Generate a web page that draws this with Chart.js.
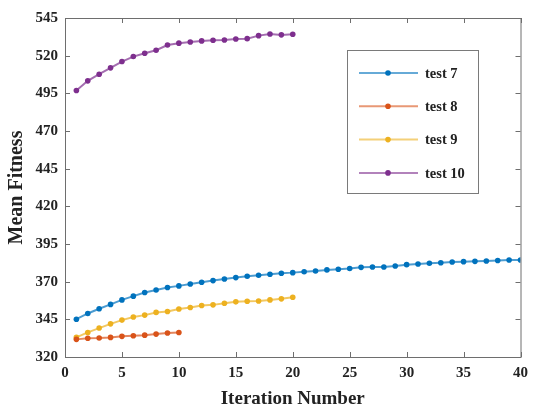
<!DOCTYPE html>
<html>
<head>
<meta charset="utf-8">
<script src="https://cdn.jsdelivr.net/npm/chart.js@4"></script>
<style>
  html, body { margin: 0; padding: 0; background: #fff; }
  #wrap { width: 535px; height: 408px; }
</style>
</head>
<body>
<div id="wrap"><canvas id="myChart" width="535" height="408"></canvas></div>
<script>
// data
var seriesNames = ["test 7", "test 8", "test 9", "test 10"];
var seriesColors = ["#0072BD", "#D95319", "#EDB120", "#7E2F8E"];

var test7 = [345.1, 348.9, 352.0, 354.9, 357.9, 360.4, 362.8, 364.5, 366.1, 367.2,
  368.5, 369.6, 370.7, 371.8, 372.7, 373.6, 374.3, 374.9, 375.6, 376.0,
  376.6, 377.1, 377.8, 378.2, 378.7, 379.5, 379.7, 379.7, 380.4, 381.3,
  381.7, 382.2, 382.6, 383.1, 383.3, 383.5, 383.7, 384.0, 384.4, 384.4];
var test8 = [331.7, 332.4, 332.6, 333.0, 333.7, 334.1, 334.5, 335.2, 335.9, 336.3];
var test9 = [333.0, 336.3, 339.2, 342.0, 344.5, 346.5, 347.8, 349.6, 350.2, 351.9,
  352.9, 354.2, 354.6, 355.7, 356.6, 357.0, 357.2, 357.9, 358.6, 359.7];
var test10 = [496.9, 503.3, 507.7, 511.9, 516.1, 519.4, 521.6, 523.6, 527.1, 528.3,
  529.1, 529.8, 530.2, 530.4, 531.1, 531.3, 533.3, 534.4, 533.8, 534.2];

var xTicks = [0, 5, 10, 15, 20, 25, 30, 35, 40];
var yTicks = [320, 345, 370, 395, 420, 445, 470, 495, 520, 545];

var allSeries = [test7, test8, test9, test10];

function toPoints(values) {
  return values.map(function (v, i) {
    return { x: i + 1, y: v };
  });
}

function fade(hex, a) {
  var r = parseInt(hex.substr(1, 2), 16);
  var g = parseInt(hex.substr(3, 2), 16);
  var b = parseInt(hex.substr(5, 2), 16);
  return "rgba(" + r + "," + g + "," + b + "," + a + ")";
}

var datasets = allSeries.map(function (values, k) {
  return {
    label: seriesNames[k],
    data: toPoints(values),
    borderColor: fade(seriesColors[k], 0.7),
    backgroundColor: seriesColors[k],
    pointBackgroundColor: seriesColors[k],
    pointBorderColor: seriesColors[k],
    borderWidth: 2,
    pointRadius: 2.8,
    pointBorderWidth: 0,
    tension: 0,
  };
});

var serif = "'Liberation Serif', 'Times New Roman', serif";
var axisColor = "#6e6e6e";

// box round the plot, inward tick marks, legend inside the axes
var matlabLook = {
  id: "matlabLook",
  afterDraw: function (chart) {
    var ctx = chart.ctx;
    var a = chart.chartArea;
    var xs = chart.scales.x;
    var ys = chart.scales.y;
    ctx.save();
    ctx.strokeStyle = axisColor;
    ctx.lineWidth = 1;
    ctx.strokeRect(a.left + 0.5, a.top + 0.5, a.right - a.left, a.bottom - a.top);
    ctx.beginPath();
    xTicks.forEach(function (t) {
      var px = Math.round(xs.getPixelForValue(t)) + 0.5;
      ctx.moveTo(px, a.bottom);
      ctx.lineTo(px, a.bottom - 5);
      ctx.moveTo(px, a.top);
      ctx.lineTo(px, a.top + 5);
    });
    yTicks.forEach(function (t) {
      var py = Math.round(ys.getPixelForValue(t)) + 0.5;
      ctx.moveTo(a.left, py);
      ctx.lineTo(a.left + 5, py);
      ctx.moveTo(a.right, py);
      ctx.lineTo(a.right - 5, py);
    });
    ctx.stroke();

    // legend
    var bx = 347, by = 50, bw = 131, bh = 143;
    ctx.fillStyle = "#fff";
    ctx.fillRect(bx, by, bw, bh);
    ctx.strokeStyle = "#7a7a7a";
    ctx.strokeRect(bx + 0.5, by + 0.5, bw, bh);
    ctx.font = "bold 14.5px " + serif;
    ctx.textBaseline = "middle";
    ctx.textAlign = "left";
    chart.data.datasets.forEach(function (ds, k) {
      var y = 73 + k * 33.3;
      ctx.strokeStyle = fade(seriesColors[k], 0.6);
      ctx.lineWidth = 2;
      ctx.beginPath();
      ctx.moveTo(359, y);
      ctx.lineTo(418, y);
      ctx.stroke();
      ctx.fillStyle = seriesColors[k];
      ctx.beginPath();
      ctx.arc(388, y, 2.8, 0, Math.PI * 2);
      ctx.fill();
      ctx.fillStyle = "#222";
      ctx.fillText(ds.label, 425, y + 1);
    });
    ctx.restore();
  },
};

var config = {
  type: "line",
  data: { datasets: datasets },
  options: {
    responsive: false,
    animation: false,
    layout: { padding: { top: 18, right: 9, left: 0, bottom: 0 } },
    plugins: {
      legend: { display: false },
      tooltip: { enabled: false },
    },
    scales: {
      x: {
        type: "linear",
        min: 0,
        max: 40,
        grid: { display: false, drawTicks: false },
        border: { display: false },
        afterFit: function (scale) {
          scale.height = 51;
        },
        afterBuildTicks: function (scale) {
          scale.ticks = xTicks.map(function (v) { return { value: v }; });
        },
        ticks: {
          color: "#222",
          padding: 7,
          maxRotation: 0,
          font: { family: serif, size: 15, weight: "bold" },
        },
        title: {
          display: true,
          text: "Iteration Number",
          color: "#222",
          padding: { top: 0, bottom: 0 },
          font: { family: serif, size: 19, weight: "bold", lineHeight: 0.9 },
        },
      },
      y: {
        min: 320,
        max: 545,
        grid: { display: false, drawTicks: false },
        border: { display: false },
        afterFit: function (scale) {
          scale.width = 65;
        },
        afterBuildTicks: function (scale) {
          scale.ticks = yTicks.map(function (v) { return { value: v }; });
        },
        ticks: {
          color: "#222",
          padding: 7,
          font: { family: serif, size: 15, weight: "bold" },
        },
        title: {
          display: true,
          text: "Mean Fitness",
          color: "#222",
          padding: { top: 7, bottom: 0 },
          font: { family: serif, size: 20, weight: "bold", lineHeight: 1 },
        },
      },
    },
  },
  plugins: [matlabLook],
};

const myChart = new Chart(document.getElementById("myChart"), config);
</script>
</body>
</html>
